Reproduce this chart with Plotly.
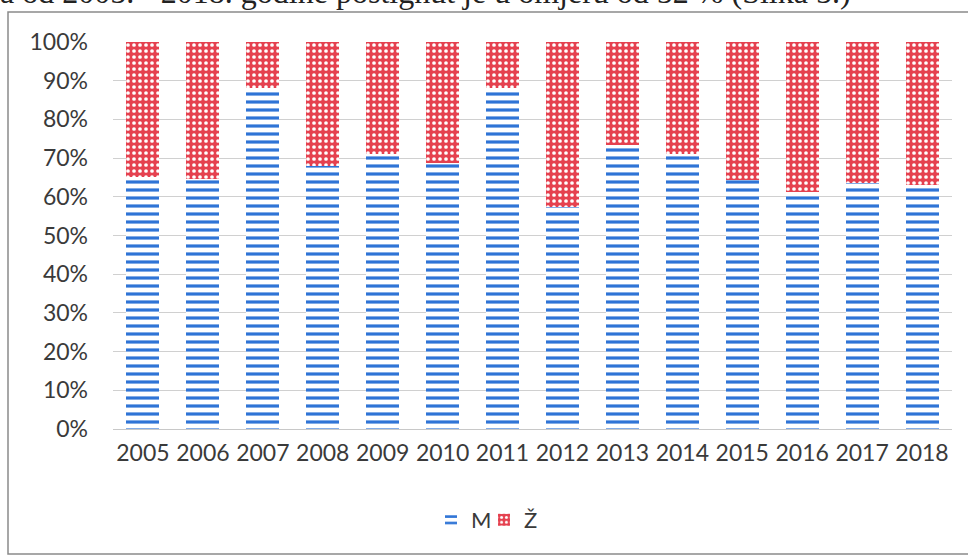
import plotly.graph_objects as go

years = ["2005", "2006", "2007", "2008", "2009", "2010", "2011",
         "2012", "2013", "2014", "2015", "2016", "2017", "2018"]
m_share = [65, 64.5, 88, 68, 71, 68.7, 88, 57.4, 73.4, 71, 64.3, 61.3, 63.6, 63]
z_share = [round(100 - v, 1) for v in m_share]
y_ticks = [0, 10, 20, 30, 40, 50, 60, 70, 80, 90, 100]
y_tick_labels = [f"{v}%" for v in y_ticks]
top_text = "a od 2005. - 2018. godine postignut je u omjeru od 52 % (Slika 5.)"

BLUE = "#2f74d6"
RED = "#e5414f"

fig = go.Figure()
fig.add_trace(go.Bar(
    x=years, y=m_share, name="M", legend="legend",
    marker=dict(color="white", line=dict(width=0),
                pattern=dict(shape="-", fgcolor=BLUE, bgcolor="white",
                             size=8, solidity=0.4, fillmode="replace",
                             fgopacity=1)),
))
fig.add_trace(go.Bar(
    x=years, y=z_share, name="Ž", legend="legend2",
    marker=dict(color=RED, line=dict(width=0),
                pattern=dict(shape=".", fgcolor="white", bgcolor=RED,
                             size=6, solidity=0.3, fillmode="replace",
                             fgopacity=1)),
))

L, R, T, B = 113, 16, 42, 126
W, H = 968, 555
pw = W - L - R
ph = H - T - B

def px_x(x):
    return (x - L) / pw

def px_y(y):
    return (H - B - y) / ph

leg_common = dict(orientation="h", y=px_y(520), xanchor="left", yanchor="middle",
                  font=dict(size=22, color="#3a3a3a"), itemwidth=30,
                  bgcolor="rgba(0,0,0,0)")

fig.update_layout(
    width=W, height=H,
    margin=dict(l=L, r=R, t=T, b=B, autoexpand=False),
    barmode="stack", bargap=0.45,
    paper_bgcolor="white", plot_bgcolor="white",
    font=dict(family="Lato, Noto Sans, sans-serif", color="#3a3a3a"),
    showlegend=True,
    legend=dict(x=px_x(431), **leg_common),
    legend2=dict(x=px_x(484), **leg_common),
    xaxis=dict(showgrid=False, showline=False, ticks="",
               tickfont=dict(size=23, color="#3a3a3a"),
               ticklabelstandoff=8),
    yaxis=dict(range=[0, 100], tickvals=y_ticks, ticktext=y_tick_labels,
               showgrid=True, gridcolor="#d0d0d0", gridwidth=1,
               zeroline=True, zerolinecolor="#c8c8c8", zerolinewidth=1,
               showline=False, ticks="",
               tickfont=dict(size=23, color="#3a3a3a"),
               ticklabelstandoff=24),
    shapes=[dict(type="rect", xref="paper", yref="paper",
                 x0=px_x(8), x1=px_x(W + 20), y0=px_y(554), y1=px_y(12),
                 line=dict(color="#8a8a8a", width=1.5), fillcolor="rgba(0,0,0,0)",
                 layer="below")],
    annotations=[dict(text=top_text, xref="paper", yref="paper",
                      x=px_x(-2), y=px_y(12), xanchor="left", yanchor="bottom",
                      showarrow=False,
                      font=dict(family="Liberation Serif, serif", size=32, color="#222"))],
)

fig.write_html("out.html", config={"displayModeBar": False},
               post_script="document.body.style.margin='0';document.body.style.overflow='hidden';")
